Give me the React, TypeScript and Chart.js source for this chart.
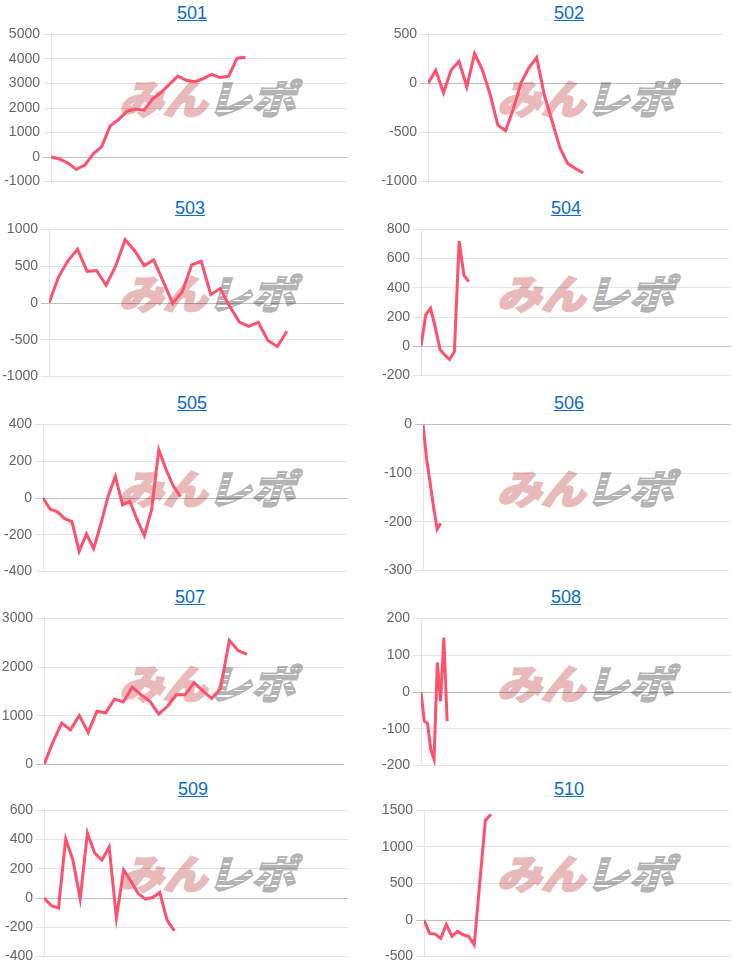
import React, { useEffect, useRef } from 'react';
import { Chart, registerables } from 'chart.js';

Chart.register(...registerables);

// ---------- data ----------
const TITLES = ['501', '502', '503', '504', '505', '506', '507', '508', '509', '510'];

const VALUES_501 = [0, -80, -240, -500, -330, 130, 430, 1270, 1530, 1870, 1960, 1910, 2360, 2630, 2960, 3300, 3130, 3070, 3200, 3370, 3240, 3290, 4030, 4070];
const VALUES_502 = [0, 135, -95, 140, 225, -35, 305, 140, -110, -425, -480, -257, 10, 160, 265, -123, -390, -657, -817, -867, -913];
const VALUES_503 = [0, 353, 576, 730, 429, 442, 240, 500, 860, 710, 509, 585, 295, -5, 152, 518, 567, 116, 196, -49, -259, -317, -263, -510, -590, -384];
const VALUES_504 = [0, 215, 260, 130, -22, -60, -90, -35, 720, 487, 442];
const VALUES_505 = [0, -61, -75, -112, -128, -290, -195, -275, -140, 10, 118, -37, -18, -118, -205, -64, 262, 155, 65, 7];
const VALUES_506 = [0, -70, -120, -170, -215, -203];
const VALUES_507 = [0, 457, 850, 713, 1009, 660, 1096, 1063, 1345, 1284, 1590, 1432, 1298, 1040, 1197, 1432, 1432, 1680, 1513, 1360, 1553, 2550, 2340, 2260];
const VALUES_508 = [0, -79, -86, -156, -183, 80, -25, 148, -79];
const VALUES_509 = [0, -51, -69, 405, 260, -5, 445, 309, 260, 350, -135, 193, 116, 33, -7, 4, 38, -150, -224];
const VALUES_510 = [0, -183, -192, -250, -60, -223, -156, -201, -223, -340, 520, 1362, 1446];

const SERIES = [VALUES_501, VALUES_502, VALUES_503, VALUES_504, VALUES_505, VALUES_506, VALUES_507, VALUES_508, VALUES_509, VALUES_510];

// hidden x axis: number of steps shown across each plot
const X_STEPS = [35, 38, 31, 65, 42, 87, 34, 95, 42, 55];

// y axis ticks
const Y_MIN = [-1000, -1000, -1000, -200, -400, -300, 0, -200, -400, -500];
const Y_MAX = [5000, 500, 1000, 800, 400, 0, 3000, 200, 600, 1500];
const Y_STEP = [1000, 500, 500, 200, 200, 100, 1000, 100, 200, 500];

// ---------- layout ----------
const PLOT_AREAS = [
  { l: 51, r: 347, t: 33, b: 183 },
  { l: 428, r: 723, t: 33, b: 183 },
  { l: 49, r: 344, t: 228, b: 378 },
  { l: 421, r: 731, t: 228, b: 377 },
  { l: 43, r: 347, t: 423, b: 573 },
  { l: 423, r: 731, t: 423, b: 572 },
  { l: 44, r: 344, t: 617, b: 766 },
  { l: 421, r: 731, t: 617, b: 767 },
  { l: 44, r: 348, t: 809, b: 958 },
  { l: 424, r: 731, t: 809, b: 958 },
];
const TITLE_CENTERS = [192, 569, 190, 566, 192, 569, 190, 566, 193, 569];
const TITLE_BASELINES = [19, 19, 214, 214, 409, 409, 603, 603, 795, 795];
const ROW_TOPS = [0, 195, 390, 585, 775];
const MARK_LEFT = [119, 497];

const LINE_COLOR = 'rgb(255, 80, 110)';

function MiniChart({ idx }: { idx: number }) {
  const ref = useRef<HTMLCanvasElement | null>(null);
  const a = PLOT_AREAS[idx];
  const col = idx % 2;
  const canvasLeft = col === 0 ? 0 : 366;
  const padTop = 10;
  const padBottom = 10;
  const padRight = col === 0 ? 6 : 732 - a.r;
  const width = a.r - canvasLeft + padRight;
  const height = a.b - a.t + padTop + padBottom;
  const axisW = a.l - canvasLeft;

  useEffect(() => {
    if (!ref.current) return;
    const values = SERIES[idx];
    const chart = new Chart(ref.current, {
      type: 'line',
      data: {
        datasets: [
          {
            data: values.map((v, i) => ({ x: i, y: v })),
            borderColor: LINE_COLOR,
            backgroundColor: LINE_COLOR,
            borderWidth: 3,
            pointRadius: 0,
            pointHoverRadius: 0,
            fill: false,
            tension: 0,
          },
        ],
      },
      options: {
        responsive: false,
        animation: false,
        events: [],
        layout: { padding: { left: 0, right: padRight, top: padTop, bottom: padBottom } },
        plugins: {
          legend: { display: false },
          tooltip: { enabled: false },
          title: { display: false },
        },
        scales: {
          x: { type: 'linear', display: false, min: 0, max: X_STEPS[idx] },
          y: {
            type: 'linear',
            min: Y_MIN[idx],
            max: Y_MAX[idx],
            ticks: {
              stepSize: Y_STEP[idx],
              color: '#666',
              padding: 3,
              font: { family: '"Liberation Sans", Arial, sans-serif', size: 14 },
              callback: (v: any) => String(v),
            },
            grid: {
              color: (ctx: any) => (ctx.tick && ctx.tick.value === 0 ? 'rgba(0,0,0,0.25)' : 'rgba(0,0,0,0.1)'),
              tickLength: 8,
            },
            border: { color: 'rgba(0,0,0,0.1)' },
            afterFit: (scale: any) => {
              scale.width = axisW;
            },
          },
        },
      } as any,
    });
    return () => chart.destroy();
  }, [idx]);

  return (
    <canvas
      ref={ref}
      width={width}
      height={height}
      style={{ position: 'absolute', left: canvasLeft, top: a.t - padTop, width, height, display: 'block' }}
    />
  );
}

const stripe = (c: string) => ({
  backgroundImage: `repeating-linear-gradient(to bottom, ${c} 0px, ${c} 4px, rgba(255,255,255,0) 4px, rgba(255,255,255,0) 5.5px)`,
  WebkitBackgroundClip: 'text',
  backgroundClip: 'text',
  color: 'transparent',
  WebkitTextStroke: `1.5px ${c}`,
});

function Watermark({ x, y }: { x: number; y: number }) {
  return (
    <div
      style={{
        position: 'absolute',
        left: x,
        top: y,
        height: 34,
        whiteSpace: 'nowrap',
        fontFamily: '"Noto Sans CJK JP", sans-serif',
        fontWeight: 900,
        fontSize: 40,
        lineHeight: '34px',
        transform: 'skewX(-16deg) scaleX(1.1)',
        transformOrigin: 'left bottom',
        userSelect: 'none',
      }}
    >
      <span style={{ color: '#e9baba', WebkitTextStroke: '2px #e9baba' }}>みん</span>
      <span style={stripe('#b4b4b4') as any}>レポ</span>
    </div>
  );
}

function Title({ idx }: { idx: number }) {
  const cx = TITLE_CENTERS[idx];
  const base = TITLE_BASELINES[idx];
  return (
    <div
      style={{
        position: 'absolute',
        left: cx - 60,
        width: 120,
        top: base - 16,
        textAlign: 'center',
        fontFamily: '"Liberation Sans", Arial, sans-serif',
        fontSize: 18,
        lineHeight: '20px',
      }}
    >
      <a href="#" style={{ color: '#0a6ccc', textDecoration: 'underline' }}>
        {TITLES[idx]}
      </a>
    </div>
  );
}

export default function App() {
  return (
    <div
      style={{
        position: 'absolute',
        left: 0,
        top: 0,
        width: 732,
        height: 970,
        overflow: 'hidden',
        background: '#fff',
      }}
    >
      {TITLES.map((_, idx) => {
        const row = Math.floor(idx / 2);
        const col = idx % 2;
        return (
          <React.Fragment key={idx}>
            <Watermark x={MARK_LEFT[col]} y={ROW_TOPS[row] + 80} />
            <Title idx={idx} />
            <MiniChart idx={idx} />
          </React.Fragment>
        );
      })}
    </div>
  );
}
